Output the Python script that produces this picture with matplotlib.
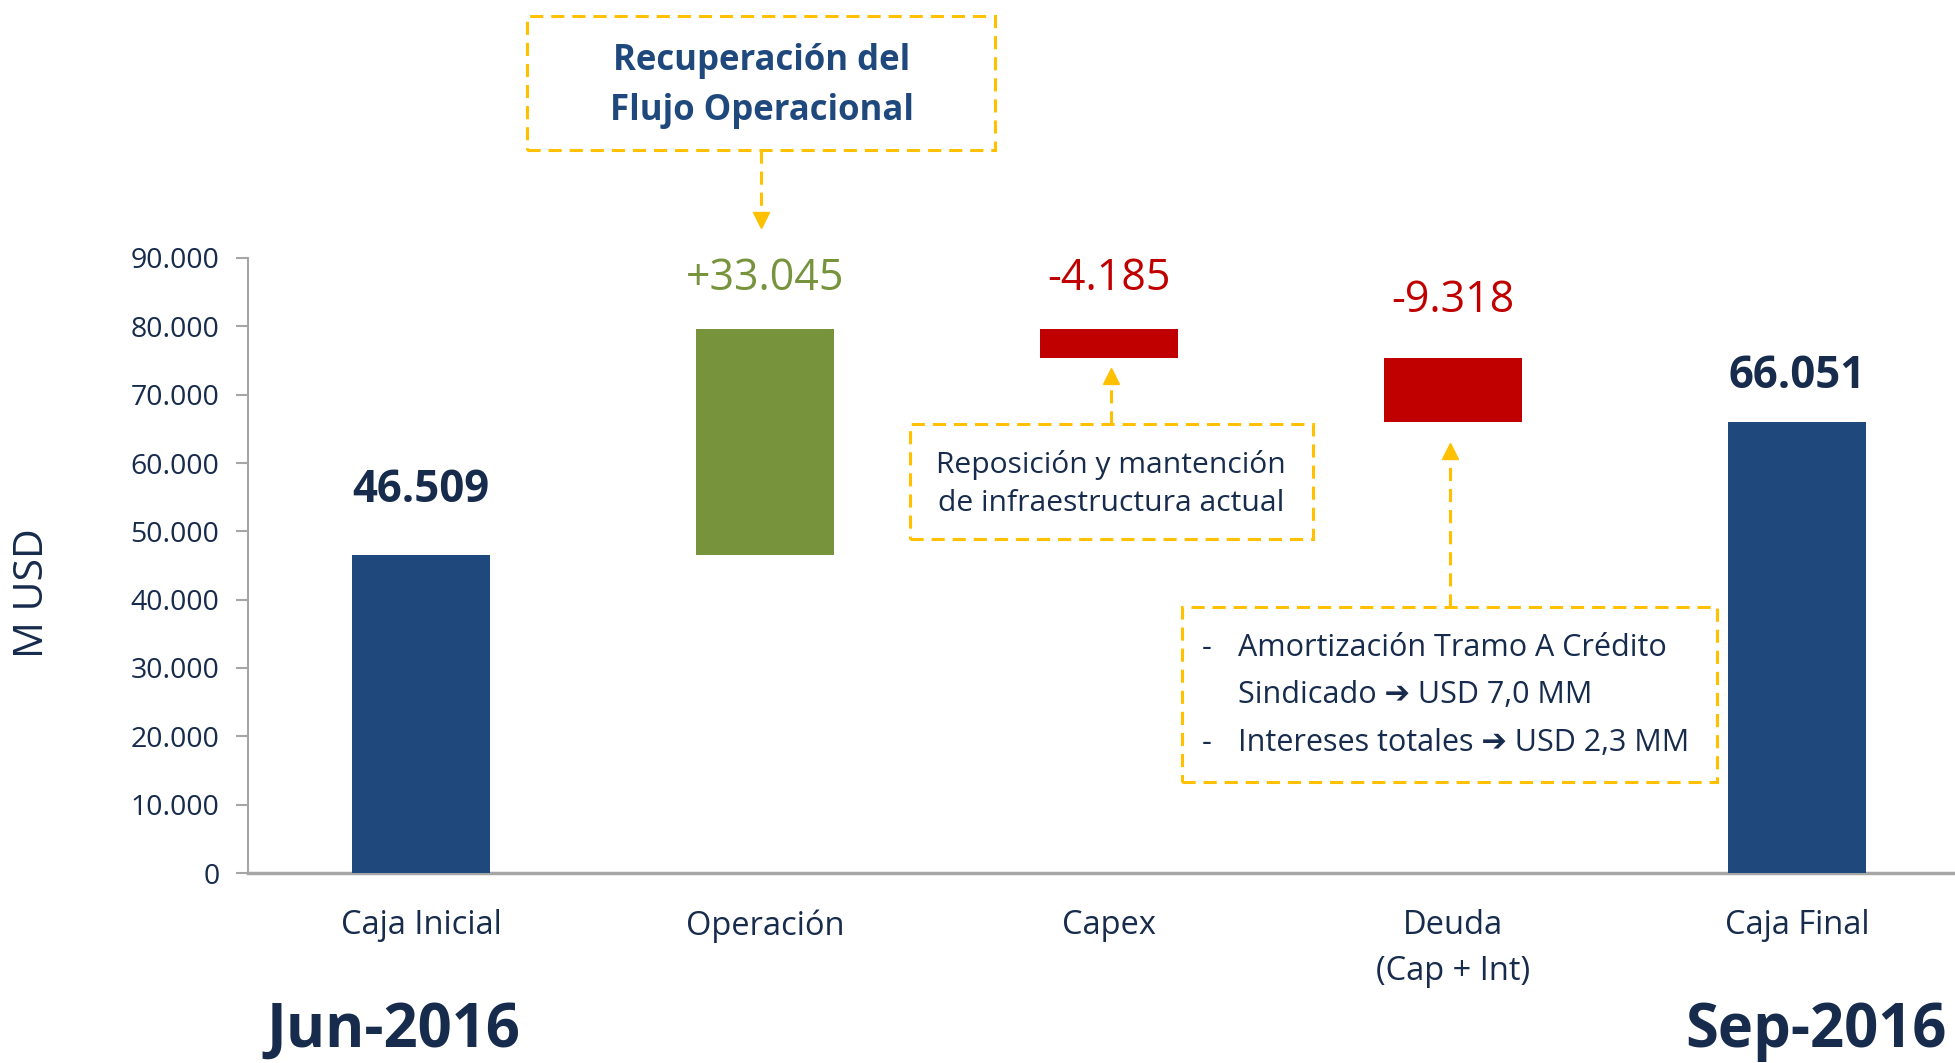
import matplotlib.pyplot as plt
from matplotlib.lines import Line2D
from matplotlib.patches import Rectangle

categories = ['Caja Inicial', 'Operación', 'Capex', 'Deuda\n(Cap + Int)', 'Caja Final']
values = [46509, 33045, -4185, -9318, 66051]
is_total = [True, False, False, False, True]
yticks = [0, 10000, 20000, 30000, 40000, 50000, 60000, 70000, 80000, 90000]

NAVY = '#1f497d'
GREEN = '#77933c'
RED = '#c00000'
TEXT = '#172b4d'
YELLOW = '#ffc000'
FONT = ['Open Sans', 'DejaVu Sans']

plt.rcParams['font.family'] = FONT

W, H = 1955, 1063
fig = plt.figure(figsize=(W / 100, H / 100), dpi=100)


def px(x, y):
    # pixel position (from top-left) to figure fraction
    return x / W, 1 - y / H


ax = fig.add_axes([248 / W, 1 - 873 / H, 1 - 248 / W, (873 - 258) / H])

# waterfall bottoms
bottoms, colors = [], []
running = 0
for v, tot in zip(values, is_total):
    if tot:
        bottoms.append(0)
        colors.append(NAVY)
        running = v
    else:
        if v >= 0:
            bottoms.append(running)
            colors.append(GREEN)
        else:
            bottoms.append(running + v)
            colors.append(RED)
        running += v
heights = [abs(v) for v in values]
xs = list(range(len(categories)))
ax.bar(xs, heights, bottom=bottoms, width=0.40, color=colors, zorder=3)

# value labels
offsets = [65, 51, 51, 57, 45]
for x, v, b, h, tot, off in zip(xs, values, bottoms, heights, is_total, offsets):
    s = f"{abs(v):,}".replace(',', '.')
    if tot:
        txt, col, wt = s, TEXT, 'bold'
    elif v >= 0:
        txt, col, wt = '+' + s, GREEN, 'normal'
    else:
        txt, col, wt = '-' + s, RED, 'normal'
    ax.annotate(txt, (x, b + h), xytext=(0, off), textcoords='offset pixels',
                ha='center', va='center', fontsize=31 if not tot else 31.5,
                color=col, fontweight=wt, annotation_clip=False)

ax.set_xlim(-0.503, 4.46)
ax.set_ylim(0, 90000)
ax.set_yticks(yticks)
ax.set_yticklabels([f"{t:,}".replace(',', '.') for t in yticks])
ax.set_xticks(xs)
ax.set_xticklabels(categories)
for lbl in ax.get_xticklabels():
    lbl.set_linespacing(1.5)
ax.tick_params(axis='y', labelsize=20.5, labelcolor=TEXT, color='#a6a6a6',
               length=9, width=1.5, pad=11.5)
ax.tick_params(axis='x', labelsize=23.5, labelcolor=TEXT, length=0, pad=26)
for side in ['top', 'right']:
    ax.spines[side].set_visible(False)
ax.spines['left'].set_color('#a6a6a6')
ax.spines['left'].set_linewidth(1.5)
ax.spines['bottom'].set_color('#a6a6a6')
ax.spines['bottom'].set_linewidth(2.5)

fig.text(*px(33, 593), 'M USD', rotation=90, ha='center', va='center',
         fontsize=29.5, color=TEXT)
fig.text(*px(393, 1031), 'Jun-2016', ha='center', va='center',
         fontsize=43, fontweight='bold', color=TEXT)
fig.text(*px(1816, 1031), 'Sep-2016', ha='center', va='center',
         fontsize=43, fontweight='bold', color=TEXT)

DASH = (0, (4.3, 2.6))


def dashed_box(x0, y0, x1, y1):
    r = Rectangle(px(x0, y1), (x1 - x0) / W, (y1 - y0) / H, transform=fig.transFigure,
                  fill=False, edgecolor=YELLOW, linewidth=2.2, linestyle=DASH)
    fig.add_artist(r)


def dashed_arrow(x, y_start, y_tip, up):
    sign = 1 if up else -1
    fx, fy0 = px(x, y_start)
    _, fy1 = px(x, y_tip + sign * 14)
    fig.add_artist(Line2D([fx, fx], [fy0, fy1], transform=fig.transFigure,
                          color=YELLOW, linewidth=2.2, linestyle=DASH))
    _, fm = px(x, y_tip + sign * 8)
    fig.add_artist(Line2D([fx], [fm], transform=fig.transFigure, marker='^' if up else 'v',
                          markersize=11.5, color=YELLOW, linestyle='none'))


# Operación annotation
dashed_box(527, 16, 995, 150)
fig.text(*px(762, 86), 'Recuperación del\nFlujo Operacional', ha='center', va='center',
         fontsize=25, fontweight='bold', color=NAVY, linespacing=1.5)
dashed_arrow(761, 150, 228, up=False)

# Capex annotation
dashed_box(910, 424, 1313, 539)
fig.text(*px(1111, 484), 'Reposición y mantención\nde infraestructura actual', ha='center',
         va='center', fontsize=21.6, color=TEXT, linespacing=1.4)
dashed_arrow(1111, 424, 368, up=True)

# Deuda annotation
dashed_box(1182, 607, 1717, 782)
dashed_arrow(1450, 607, 443, up=True)
debt_lines = [('-', 'Amortización Tramo A Crédito', 648),
              ('', 'Sindicado ➔ USD 7,0 MM', 695),
              ('-', 'Intereses totales ➔ USD 2,3 MM', 743)]
for dash, line, y in debt_lines:
    if dash:
        fig.text(*px(1207, y), dash, ha='center', va='center', fontsize=22, color=TEXT)
    fig.text(*px(1238, y), line, ha='left', va='center', fontsize=22, color=TEXT)

fig.savefig('out.png', dpi=100)
